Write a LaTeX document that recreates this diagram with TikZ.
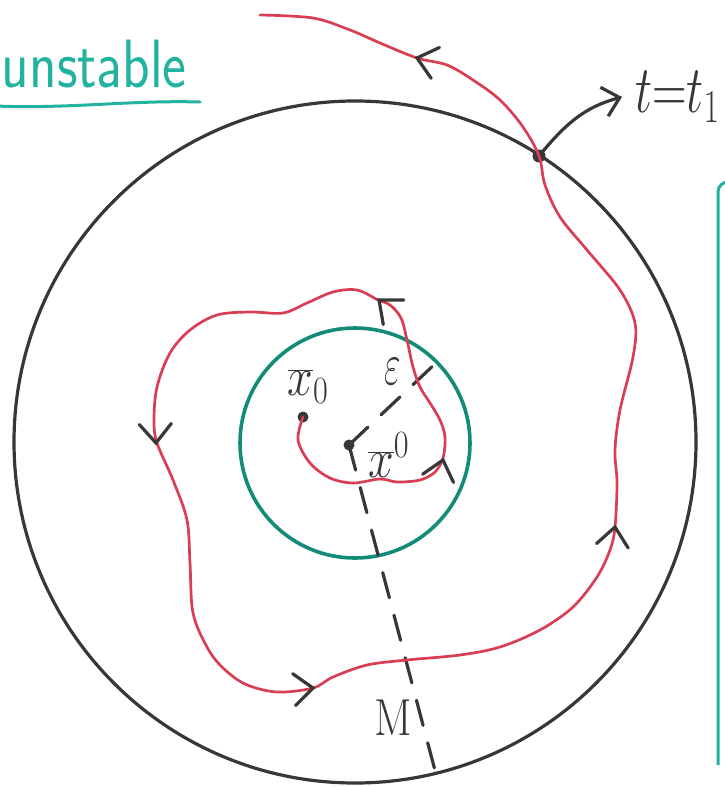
\documentclass[tikz,border=0pt]{standalone}
\usepackage{fix-cm}
\usepackage{tikz}
\usetikzlibrary{arrows.meta,positioning,calc}
\definecolor{pencil}{RGB}{55,55,55}
\definecolor{redpen}{RGB}{218,62,84}
\definecolor{greenpen}{RGB}{18,140,118}
\definecolor{tealpen}{RGB}{34,178,160}

\begin{document}
\begin{tikzpicture}[
  x=1pt, y=1pt,
  pencil line/.style={draw=pencil,line width=3.2pt,line cap=round},
  orbit/.style={draw=redpen,line width=2.7pt,line cap=round,line join=round},
  radius line/.style={pencil line,dash pattern=on 26pt off 18pt},
  dotmark/.style={circle,fill=pencil,inner sep=0pt,minimum size=11pt},
  hand/.style={text=pencil,inner sep=0pt},
  barb/.pic={\draw[pencil line] (-19,16) -- (0,0) -- (-19,-16);},
]
\useasboundingbox (0,0) rectangle (724,-787);

% title
\node[anchor=base east,text=tealpen,inner sep=0pt,
      font=\sffamily\fontsize{57}{57}\selectfont] (title) at (187,-87)
  {\scalebox{1}[1.2]{unstable}};
\draw[draw=tealpen,line width=3pt,line cap=round]
  (-5,-106) .. controls (70,-109) and (130,-100) .. (200,-102);

% the two balls
\draw[pencil line] (355,-442) circle (341pt);
\draw[draw=greenpen,line width=3.6pt] (355,-443) circle (115pt);

% box on the right
\draw[draw=tealpen,line width=3pt,rounded corners=10pt]
  (718,-765) -- (718,-182) -- (745,-182);

% points
\node[dotmark] (xc) at (349,-445) {};
\node[hand,anchor=west,font=\fontsize{46}{46}\selectfont] (xclab) at (368,-455)
  {\scalebox{1}[1.2]{$\overline{x}^{0}$}};
\node[dotmark] (x0) at (303,-417) {};
\node[hand,anchor=south,font=\fontsize{46}{46}\selectfont] (x0lab) at (308,-404)
  {\scalebox{1}[1.2]{$\overline{x}_{0}$}};
\node[dotmark,minimum size=13pt] (t1) at (539,-156) {};
\node[hand,anchor=west,font=\fontsize{48}{48}\selectfont] (t1lab) at (635,-97)
  {\scalebox{1}[1.4]{$t{=}t_1$}};

% radii
\coordinate (eps end) at (437,-362);
\coordinate (m end) at (437,-778);
\draw[radius line] (xc.center) -- (eps end);
\draw[radius line] (xc.center) -- (m end);
\node[hand,font=\fontsize{60}{60}\selectfont] (epslab) at (393,-372)
  {\scalebox{0.6}[1]{$\varepsilon$}};
\node[hand,font=\fontsize{52}{52}\selectfont] (mlab) at (393,-718)
  {\scalebox{0.85}[1]{$\mathrm{M}$}};

% trajectory
\draw[orbit] plot[smooth,tension=0.55] coordinates {
  (303,-417) (298,-440) (310,-463) (330,-478) (353,-483) (380,-479)
  (397,-482) (420,-480) (435,-472) (443,-458) (445,-437) (440,-420)
  (430,-403) (420,-387) (413,-367) (407,-340) (401,-318) (390,-305)
  (378,-300) (357,-290) (333,-292) (307,-303) (283,-313) (250,-312)
  (217,-315) (190,-330) (170,-353) (157,-387) (154,-420) (157,-443)
  (173,-480) (187,-520) (190,-563) (193,-613) (207,-647) (222,-667)
  (245,-684) (277,-692) (313,-688) (333,-677) (367,-665) (407,-660)
  (460,-655) (500,-647) (540,-630) (573,-607) (597,-577) (610,-550)
  (615,-527) (617,-483) (615,-450) (620,-410) (633,-357) (635,-323)
  (620,-290) (587,-250) (560,-217) (545,-185) (539,-156) (523,-127)
  (500,-100) (473,-80) (447,-65) (417,-58) (380,-43) (350,-30)
  (313,-18) (260,-15)};

% direction marks
\pic[rotate=75]  at (443,-460) {barb};
\pic[rotate=140] at (379,-300) {barb};
\pic[rotate=-88] at (156,-443) {barb};
\pic[rotate=5]   at (313,-688) {barb};
\pic[rotate=82]  at (615,-527) {barb};
\pic[rotate=165] at (417,-58)  {barb};

% leaving the ball
\draw[pencil line,-{Straight Barb[length=16pt,width=30pt]}]
  (t1) to[out=50,in=195] ([xshift=-13pt]t1lab.west);
\end{tikzpicture}
\end{document}
